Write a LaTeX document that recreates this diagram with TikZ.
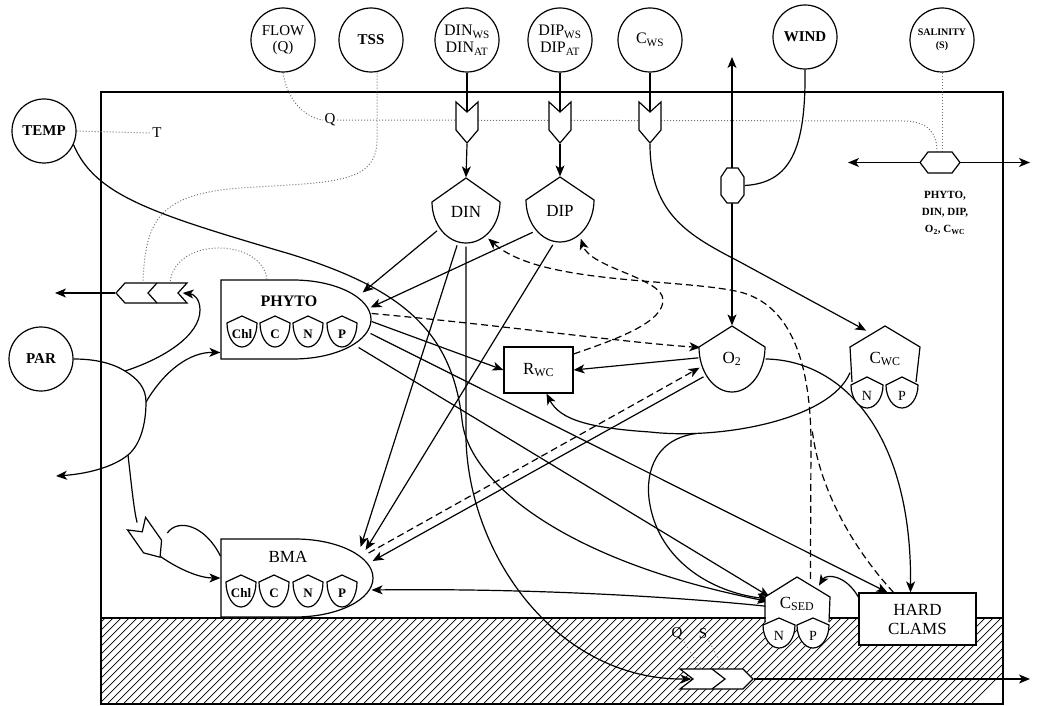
\documentclass[tikz,border=0pt]{standalone}
\usepackage{fontspec}
\setmainfont{Liberation Serif}
\usetikzlibrary{arrows.meta,backgrounds}

% shield outline: x, y of shoulders, half width, rise of apex, depth of bottom
\newcommand{\shieldshape}[5]{%
  \draw[fill=white] (#1-#3,#2) -- (#1,#2-#4) -- (#1+#3,#2)
    arc[start angle=0,end angle=180,x radius=#3,y radius=#5] -- cycle;}
% notched gate pointing down: name, x, y
\newcommand{\gateshape}[3]{%
  \draw[fill=white] (#2-11,#3-20) -- (#2,#3-10) -- (#2+11,#3-20)
    -- (#2+11,#3+8) -- (#2,#3+21) -- (#2-11,#3+8) -- cycle;
  \node[inner sep=0pt,minimum width=22pt,minimum height=42pt] (#1) at (#2,#3+0.5) {};}

\begin{document}
\begin{tikzpicture}[x=1pt,y=-1pt,line width=1.2pt,
  font=\fontsize{17}{19}\selectfont,
  src/.style={circle,draw,minimum size=64pt,inner sep=0pt,align=center,
    font=\fontsize{16}{17}\selectfont},
  hub/.style={circle,inner sep=0pt,minimum size=#1},
  box/.style={draw,fill=white,inner sep=0pt,align=center},
  tag/.style={inner sep=1pt,font=\fontsize{15}{15}\selectfont},
  small/.style={inner sep=0pt,font=\bfseries\fontsize{13}{13}\selectfont},
  flow/.style={line width=1.2pt,-{Stealth[length=11pt,width=9pt,inset=3pt]}},
  twoway/.style={line width=1.2pt,{Stealth[length=11pt,width=9pt,inset=3pt]}-{Stealth[length=11pt,width=9pt,inset=3pt]}},
  ctrl/.style={dotted,line width=1pt,black!55},
  recyc/.style={line width=1.2pt,dash pattern=on 7pt off 4pt}]
\useasboundingbox (0,0) rectangle (1044,706);

% sources
\node[src,font=\bfseries\fontsize{15}{15}\selectfont] (temp) at (44,131) {TEMP};
\node[src,font=\fontsize{15}{16}\selectfont] (flow) at (283,40) {FLOW\\(Q)};
\node[src,font=\bfseries\fontsize{15}{15}\selectfont] (tss) at (371,40) {TSS};
\node[src] (dinws) at (467,40) {DIN\textsubscript{WS}\\DIN\textsubscript{AT}};
\node[src] (dipws) at (560,40) {DIP\textsubscript{WS}\\DIP\textsubscript{AT}};
\node[src] (cws) at (650,40) {C\textsubscript{WS}};
\node[src,font=\bfseries\fontsize{15}{15}\selectfont] (wind) at (805,37) {WIND};
\node[src,font=\bfseries\fontsize{10}{13}\selectfont] (sal) at (942,40) {SALINITY\\(S)};
\node[src,font=\bfseries\fontsize{15}{15}\selectfont] (par) at (41,359) {PAR};

% inflow gates
\gateshape{gdin}{467}{122}
\gateshape{gdip}{560}{122}
\gateshape{gcws}{650}{122}

% storages
\shieldshape{466}{202}{34}{24}{41}
\node[hub=68pt] (din) at (466,212) {DIN};
\shieldshape{560}{200}{34}{23}{42}
\node[hub=68pt] (dip) at (560,211) {DIP};
\shieldshape{732}{347}{33}{21}{45}
\node[hub=66pt] (o2) at (732,359) {O\textsubscript{2}};

\node[box,minimum width=69pt,minimum height=46pt] (rwc) at (538.5,370) {R\textsubscript{WC}};
\node[box,minimum width=117pt,minimum height=52pt] (clams) at (917.5,619) {HARD\\CLAMS};

% C_WC with N, P
\fill[white] (850,347) -- (885,326) -- (920,347) -- (917,386) -- (853,386) -- cycle;
\draw (852,382) -- (850,347) -- (885,326) -- (920,347) -- (916,382);
\shieldshape{867}{385}{16}{8}{23}
\shieldshape{902}{385}{16}{8}{23}
\node[hub=72pt] (cwc) at (885,362) {};
\node (cwctxt) at (885,359) {C\textsubscript{WC}};
\node[font=\fontsize{14}{14}\selectfont] (cwcn) at (867,396) {N};
\node[font=\fontsize{14}{14}\selectfont] (cwcp) at (902,396) {P};

% C_SED with N, P
\fill[white] (765,597) -- (797,577) -- (830,597) -- (829,626) -- (766,626) -- cycle;
\draw (765,622) -- (765,597) -- (797,577) -- (830,597) -- (829,622);
\shieldshape{779}{625}{16}{7}{23}
\shieldshape{813}{625}{16}{7}{23}
\node[hub=56pt] (csed) at (797,604) {C\textsubscript{SED}};
\node[font=\fontsize{14}{14}\selectfont] (csedn) at (779,636) {N};
\node[font=\fontsize{14}{14}\selectfont] (csedp) at (813,636) {P};

% producers
\draw[fill=white] (221,280) -- (293,280) arc[start angle=-90,end angle=90,x radius=78,y radius=39.5] -- (221,359) -- cycle;
\node[inner sep=0pt,minimum width=150pt,minimum height=79pt] (phyto) at (296,319.5) {};
\node[font=\bfseries\fontsize{16}{16}\selectfont] (phytotxt) at (289,301) {PHYTO};
\foreach \x/\t [count=\k] in {242/Chl,275/C,308/N,342/P} {
  \shieldshape{\x}{323}{15}{7}{24}
  \node[small] (ph\k) at (\x,334) {\t};
}
\draw[fill=white] (221,539) -- (295,539) arc[start angle=-90,end angle=90,x radius=78,y radius=39] -- (221,617) -- cycle;
\node[inner sep=0pt,minimum width=152pt,minimum height=78pt] (bma) at (297,578) {};
\node (bmatxt) at (288,557) {BMA};
\foreach \x/\t [count=\k] in {241/Chl,274/C,308/N,342/P} {
  \shieldshape{\x}{582}{15}{7}{25}
  \node[small] (bm\k) at (\x,593) {\t};
}

% exchange switches
\draw[fill=white] (920,162.5) -- (928,152) -- (952,152) -- (960,162.5) -- (952,173) -- (928,173) -- cycle;
\node[inner sep=0pt,minimum width=40pt,minimum height=21pt] (hxsal) at (940,162.5) {};
\draw[fill=white] (727,168) -- (738,168) -- (744,177) -- (744,195) -- (738,203) -- (727,203) -- (721,195) -- (721,177) -- cycle;
\node[inner sep=0pt,minimum width=23pt,minimum height=35pt] (hxo2) at (732.5,185.5) {};

% export gates
\draw[fill=white] (116,293) -- (125,283) -- (187,283) -- (178,293) -- (187,303) -- (125,303) -- cycle;
\draw (157,283) -- (148,293) -- (157,303);
\node[inner sep=0pt,minimum width=71pt,minimum height=20pt] (gexp) at (151.5,293) {};
\draw[fill=white] (680,669) -- (743,669) -- (753,679) -- (743,689) -- (680,689) -- (693,679) -- cycle;
\draw (712,669) -- (725,679) -- (712,689);
\node[inner sep=0pt,minimum width=73pt,minimum height=20pt] (gsed) at (716.5,679) {};
\begin{scope}[shift={(148,540)},rotate=35]
  \draw[fill=white] (-11,-20) -- (0,-10) -- (11,-20) -- (11,8) -- (0,21) -- (-11,8) -- cycle;
\end{scope}
\node[hub=40pt] (gbma) at (148,540) {};

% labels
\node[tag] (tlab) at (157,133) {T};
\node[tag] (qlab) at (330,120) {Q};
\node[tag] (qsed) at (677,634) {Q};
\node[tag] (ssed) at (703,634) {S};
\node[align=center,font=\bfseries\fontsize{11}{17}\selectfont] (exch) at (945,213) {PHYTO,\\DIN, DIP,\\O\textsubscript{2}, C\textsubscript{WC}};

% free ends
\coordinate (o2atm) at (732,57);
\coordinate (salw) at (848,162.5);
\coordinate (sale) at (1030,162.5);
\coordinate (expout) at (55,293);
\coordinate (sedout) at (1030,679);
\coordinate (parout) at (56,476);
\coordinate (pa1) at (125,371);
\coordinate (pa2) at (146,402);
\coordinate (pa3) at (128,455);
\coordinate (brc) at (696,433.5);

\begin{scope}[on background layer]
\begin{scope}[line width=1.2pt]
  % sediment
  \begin{scope}
    \clip (101,618) rectangle (1003,704);
    \foreach \i in {0,...,120}
      \draw[line width=0.7pt] (11+\i*8,704) -- ++(90,-90);
  \end{scope}
  \draw[line width=1.4pt] (101,92) rectangle (1003,704);
  \draw[line width=1.4pt] (101,618) -- (1003,618);

  % controls
  \draw[ctrl] (temp.east) -- (tlab.west);
  \draw[ctrl] (flow.south) .. controls (287,100) and (305,118) .. (qlab.west);
  \draw[ctrl] (qlab.east) -- (903,121) .. controls (930,121) and (937,135) .. ([shift={(-3,0)}]hxsal.north);
  \draw[ctrl] (sal.south) -- ([shift={(2,0)}]hxsal.north);
  \draw[ctrl] ([shift={(6,0)}]tss.south) -- (377,140) .. controls (377,185) and (330,182) .. (240,188)
    .. controls (160,194) and (145,220) .. ([shift={(-8.5,0)}]gexp.north);
  \draw[ctrl] ([shift={(-29,0)}]phyto.north) .. controls (262,238) and (175,236) .. ([shift={(18.5,0)}]gexp.north);
  \draw[ctrl] (qsed.south east) -- ([shift={(-16,0)}]gsed.north);
  \draw[ctrl] (ssed.south east) -- ([shift={(7,0)}]gsed.north);

  % inputs
  \draw (dinws.south) -- (gdin.center);
  \draw (dipws.south) -- (gdip.center);
  \draw (cws.south) -- (gcws.center);
  \draw[flow] (gdin.south) -- (din.north);
  \draw[flow] (gdip.south) -- (dip.north);
  \draw[flow] (gcws.south) .. controls (650,215) and (690,236) .. (740,262) -- (cwc.121);
  \draw (wind.south) .. controls (806,150) and (790,183) .. (hxo2.east);
  \draw[twoway] (o2atm) -- (o2.north);
  \draw[twoway] (salw) -- (sale);

  % light
  \draw[flow] (par.east) .. controls (95,359) and (112,363) .. (pa1)
    .. controls (138,379) and (146,388) .. (pa2)
    .. controls (146,425) and (140,445) .. (pa3)
    .. controls (112,468) and (85,474) .. (parout);
  \draw[flow] (pa1) .. controls (165,358) and (200,335) .. (200,310)
    .. controls (200,298) and (193,294) .. ([shift={(-5,0)}]gexp.east);
  \draw[flow] (pa2) .. controls (165,370) and (190,352) .. ([shift={(0,33)}]phyto.west);
  \draw (pa3) .. controls (132,490) and (134,510) .. (gbma.122);
  \draw[flow] (gbma.-53) .. controls (180,570) and (200,578) .. (bma.west);
  \draw (gbma.20) .. controls (178,518) and (205,525) .. ([shift={(0,-22)}]bma.west);
  \draw[flow] (gexp.west) -- (expout);

  % nutrients
  \draw[flow] (din.213) -- ([shift={(-9,-27)}]phyto.east);
  \draw[flow] (dip.218) -- ([shift={(-1,-12)}]phyto.east);
  \draw[flow] (din.255) -- ([shift={(-13,-31)}]bma.east);
  \draw[flow] (dip.258) -- ([shift={(-8,-28)}]bma.east);
  \draw[flow] (din.south) -- (466,440) .. controls (470,560) and (560,680) .. ([shift={(12,0)}]gsed.west);
  \draw[flow] (gsed.east) -- (sedout);
  \draw[flow] (temp.-25) .. controls (95,195) and (150,213) .. (290,254)
    .. controls (400,288) and (452,330) .. (462,420)
    .. controls (468,480) and (560,560) .. (csed.175);

  % oxygen and carbon
  \draw[flow] (o2.212) -- ([shift={(-1,-17)}]bma.east);
  \draw[flow,recyc] ([shift={(-5,-25)}]bma.east) -- (o2.195);
  \draw[flow,recyc] ([shift={(0,-6)}]phyto.east) .. controls (500,325) and (620,342) .. (o2.160);
  \draw[flow] ([shift={(0,2)}]phyto.east) -- (rwc.west);
  \draw[flow] ([shift={(-1,14)}]phyto.east) -- ([shift={(-30,0)}]clams.north);
  \draw[flow] ([shift={(-13,28)}]phyto.east) -- (csed.165);
  \draw[flow] (csed.185) .. controls (690,598) and (540,588) .. ([shift={(-2,12)}]bma.east);
  \draw[flow] (o2.178) -- (rwc.east);
  \draw[flow,recyc] ([shift={(0,-16)}]rwc.east) .. controls (620,338) and (663,322) .. (663,300)
    .. controls (663,278) and (590,268) .. (dip.-53);
  \draw[flow,recyc] (csed.62) -- (811,440) .. controls (810,360) and (790,305) .. (740,292)
    .. controls (680,278) and (540,285) .. (din.-50);
  \draw[recyc] ([shift={(-24,0)}]clams.north) .. controls (850,545) and (818,485) .. (812,428);
  \draw[flow] ([shift={(0,-22)}]clams.west) .. controls (845,574) and (826,574) .. (csed.40);
  \draw[flow] (o2.east) .. controls (840,360) and (912,430) .. ([shift={(-7,0)}]clams.north);
  \draw[flow] (cwc.197) .. controls (830,420) and (720,440) .. (650,432)
    .. controls (590,428) and (560,420) .. ([shift={(8,0)}]rwc.south);
  \draw[flow] (brc) .. controls (650,440) and (645,480) .. (650,505)
    .. controls (660,560) and (710,592) .. (csed.170);
\end{scope}
\end{scope}
\end{tikzpicture}
\end{document}
